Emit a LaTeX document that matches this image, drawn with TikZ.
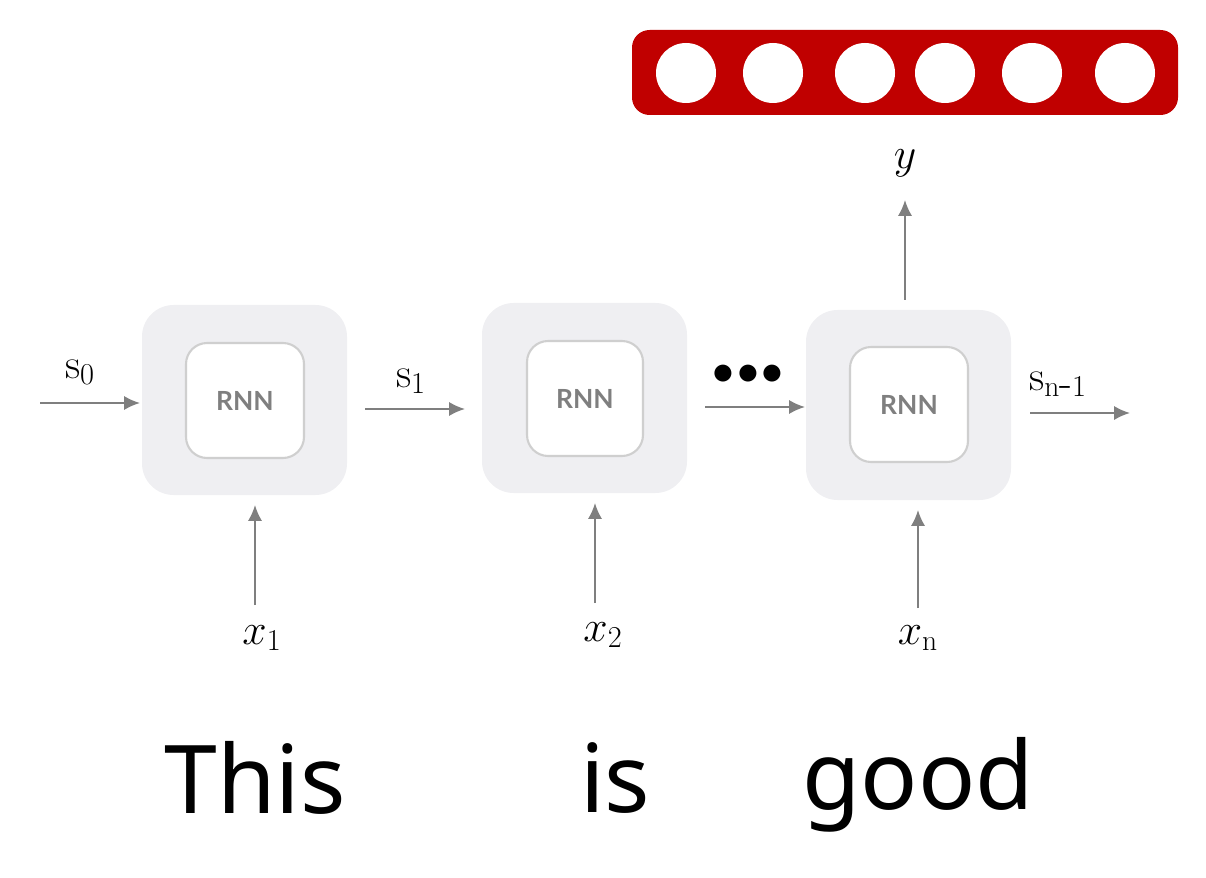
\documentclass[tikz,border=0pt]{standalone}
\usepackage{fontspec}
\newfontfamily\wordfont{Noto Sans}
\newfontfamily\rnnfont{Lato}
\usetikzlibrary{arrows.meta}
\definecolor{barred}{HTML}{C00000}
\definecolor{cellgray}{HTML}{EFEFF2}
\definecolor{edgegray}{HTML}{CFCFCF}
\definecolor{arrgray}{HTML}{7F7F7F}
\tikzset{
  flow/.style={draw=arrgray,line width=1.1pt,-{Latex[length=9pt,width=8pt]}},
  outer/.style={fill=cellgray,rounded corners=18pt},
  inner/.style={draw=edgegray,fill=white,line width=1.2pt,rounded corners=12pt},
  rnn/.style={font=\rnnfont\bfseries\fontsize{15}{15}\selectfont,text=arrgray},
  lab/.style={font=\fontsize{24}{24}\selectfont},
  word/.style={font=\wordfont\fontsize{54}{54}\selectfont}
}
\begin{document}
\begin{tikzpicture}[x=0.02cm,y=-0.02cm]
        \useasboundingbox (0,0) rectangle (1206,878);
        % output layer
        \fill[barred,rounded corners=10pt] (632,30) rectangle (1178,115);
        \foreach \cx in {686,773,865,945,1032,1125}
            \fill[white] (\cx,73) circle (30);
        % cells
        \fill[outer] (142,305) rectangle (347,495);
        \fill[outer] (482,303) rectangle (687,493);
        \fill[outer] (806,310) rectangle (1011,500);
        \draw[inner] (186,343) rectangle (304,458) node[rnn,midway] (c1) {RNN};
        \draw[inner] (527,341) rectangle (643,456) node[rnn,midway] (c2) {RNN};
        \draw[inner] (850,347) rectangle (968,462) node[rnn,midway] (c3) {RNN};
        % states
        \coordinate (s0a) at (40,403); \coordinate (s0b) at (140,403);
        \coordinate (s1a) at (365,409); \coordinate (s1b) at (465,409);
        \coordinate (dta) at (705,407); \coordinate (dtb) at (805,407);
        \coordinate (sna) at (1030,413); \coordinate (snb) at (1130,413);
        \draw[flow] (s0a) -- (s0b);
        \draw[flow] (s1a) -- (s1b);
        \draw[flow] (dta) -- (dtb);
        \draw[flow] (sna) -- (snb);
        \node[lab] (s0) at (80,372) {$\mathrm{s}_0$};
        \node[lab] (s1) at (411,381) {$\mathrm{s}_1$};
        \node[font=\fontsize{30}{30}\selectfont] (dots) at (748,375) {$\bullet\!\bullet\!\bullet$};
        \node[lab] (sn) at (1058,384) {$\mathrm{s}_{\mathrm{n}\mbox{-}1}$};
        % inputs
        \node[lab] (x1) at (262,638) {$x_1$};
        \node[lab] (x2) at (603,635) {$x_2$};
        \node[lab] (xn) at (918,638) {$x_{\mathrm{n}}$};
        \coordinate (x1t) at (255,505); \coordinate (x2t) at (595,503); \coordinate (xnt) at (918,510);
        \draw[flow] (255,605) -- (x1t);
        \draw[flow] (595,603) -- (x2t);
        \draw[flow] (918,608) -- (xnt);
        % output
        \node[lab] (y) at (905,163) {$y$};
        \coordinate (yb) at (905,300);
        \draw[flow] (yb) -- (905,200);
        % words
        \node[word] (w1) at (255,778) {This};
        \node[word] (w2) at (615,778) {is};
        \node[word] (w3) at (918,785) {good};
\end{tikzpicture}
\end{document}
